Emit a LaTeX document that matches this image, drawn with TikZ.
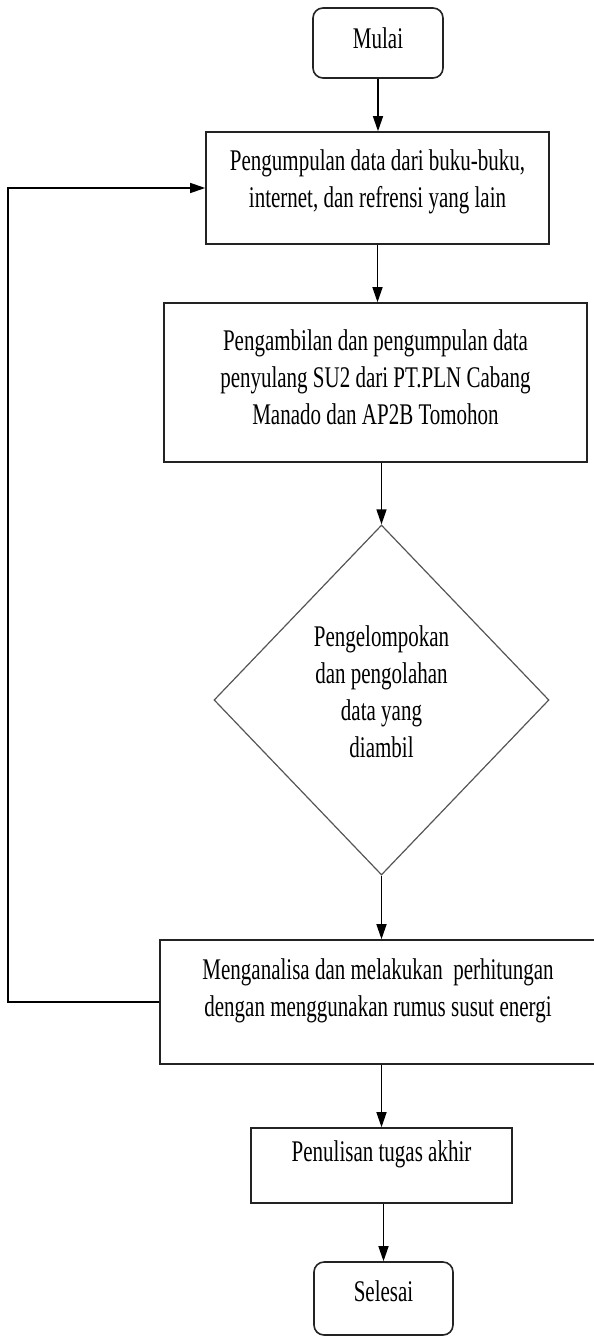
\documentclass[tikz,border=0pt]{standalone}
\usepackage{fontspec}
\setmainfont[FakeStretch=0.7]{Liberation Serif}
\usepackage{tikz}
\usetikzlibrary{arrows.meta,shapes.geometric}
\definecolor{LineDark}{RGB}{35,35,35}
\definecolor{LineGray}{RGB}{85,85,85}
\tikzset{
  txt/.style={font=\fontsize{30}{37}\selectfont,align=flush center,inner sep=0pt},
  lift/.style={execute at end node={\par\kern#1}},
  term/.style={txt,draw=LineDark,line width=1.6pt,rounded corners=10pt,text width=#1},
  box/.style={txt,draw=LineDark,line width=1.6pt,text width=#1},
  dec/.style={txt,diamond,draw=LineGray,line width=1.2pt,text width=150pt},
  arr/.style={draw=black,line width=1.4pt,-{Triangle[length=15pt,width=10pt]}},
}
\begin{document}
\begin{tikzpicture}[x=1pt,y=-1pt]
\useasboundingbox (0,0) rectangle (594,1338);
\node[term=130pt,minimum height=70pt,lift=10pt] (mulai) at (378,43) {Mulai};
\node[box=343pt,minimum height=112pt,lift=13pt] (b1) at (377.5,188)
  {Pengumpulan data dari buku-buku,\\ internet, dan refrensi yang lain};
\node[box=423pt,minimum height=159pt,lift=11pt] (b2) at (375.5,382.5)
  {Pengambilan dan pengumpulan data\\ penyulang SU2 dari PT.PLN Cabang\\ Manado dan AP2B Tomohon};
\node[dec,minimum width=335pt,minimum height=350pt,lift=17pt] (d1) at (381.5,700)
  {Pengelompokan\\ dan pengolahan\\ data yang\\ diambil};
\node[box=436pt,minimum height=124pt,lift=23pt] (b3) at (378,1002)
  {Menganalisa dan melakukan\ \ perhitungan\\ dengan menggunakan rumus susut energi};
\node[box=261pt,minimum height=75pt,lift=22pt] (b4) at (381.5,1165.5) {Penulisan tugas akhir};
\node[term=139pt,minimum height=73pt,lift=15pt] (selesai) at (383.5,1298.5) {Selesai};
\coordinate (back) at (8,188);
\draw[arr] (mulai.south) -- (mulai.south |- b1.north);
\draw[arr] (b1.south) -- (b1.south |- b2.north);
\draw[arr] (d1.north |- b2.south) -- (d1.north);
\draw[arr] (d1.south) -- (d1.south |- b3.north);
\draw[arr] (b4.north |- b3.south) -- (b4.north);
\draw[arr] (selesai.north |- b4.south) -- (selesai.north);
\draw[arr] (b3.west) -| (back) -- (b1.west);
\end{tikzpicture}
\end{document}
